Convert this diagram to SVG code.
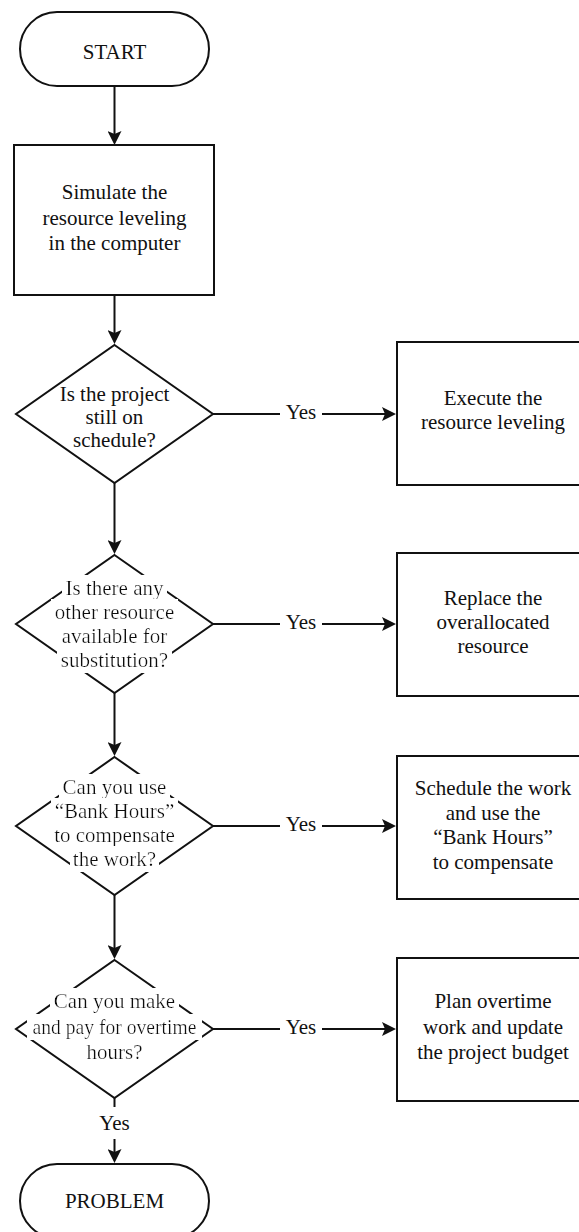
<svg xmlns="http://www.w3.org/2000/svg" width="579" height="1232" viewBox="0 0 579 1232">
  <style>
    .shape { fill: #fff; stroke: #111; stroke-width: 2; }
    .conn { fill: none; stroke: #111; stroke-width: 2; }
    .arrow { marker-end: url(#head); }
    text { font-family: "Liberation Serif", "Times New Roman", serif; font-size: 21px; fill: #111; text-anchor: middle; }
    .knock { filter: url(#knockout); }
  </style>
  <defs>
    <marker id="head" markerUnits="userSpaceOnUse" viewBox="0 0 14 14" markerWidth="14" markerHeight="14" refX="11" refY="7" orient="auto">
      <path d="M0,0 L14,7 L0,14 L3,7 Z" fill="#111"/>
    </marker>
    <!-- white box behind a label so the outline it sits on is cut away -->
    <filter id="knockout" x="-0.03" y="-0.02" width="1.06" height="1.04">
      <feFlood flood-color="#fff" result="bg"/>
      <feMerge>
        <feMergeNode in="bg"/>
        <feMergeNode in="SourceGraphic"/>
      </feMerge>
    </filter>
  </defs>

  <g id="connectors">
    <line class="conn arrow" x1="114.5" y1="86" x2="114.5" y2="142"/>
    <line class="conn arrow" x1="114.5" y1="295" x2="114.5" y2="341"/>
    <line class="conn arrow" x1="114.5" y1="483" x2="114.5" y2="551"/>
    <line class="conn arrow" x1="114.5" y1="693" x2="114.5" y2="753"/>
    <line class="conn arrow" x1="114.5" y1="895" x2="114.5" y2="956"/>

    <line class="conn" x1="213" y1="414" x2="280" y2="414"/>
    <line class="conn arrow" x1="322" y1="414" x2="393" y2="414"/>
    <text x="301" y="418.5">Yes</text>

    <line class="conn" x1="213" y1="624" x2="280" y2="624"/>
    <line class="conn arrow" x1="322" y1="624" x2="393" y2="624"/>
    <text x="301" y="628.5">Yes</text>

    <line class="conn" x1="213" y1="826" x2="280" y2="826"/>
    <line class="conn arrow" x1="322" y1="826" x2="393" y2="826"/>
    <text x="301" y="830.5">Yes</text>

    <line class="conn" x1="213" y1="1029" x2="280" y2="1029"/>
    <line class="conn arrow" x1="322" y1="1029" x2="393" y2="1029"/>
    <text x="301" y="1033.5">Yes</text>

    <line class="conn" x1="114.5" y1="1098" x2="114.5" y2="1107"/>
    <text x="114.5" y="1130">Yes</text>
    <line class="conn arrow" x1="114.5" y1="1139" x2="114.5" y2="1160"/>
  </g>

  <g id="start">
    <rect class="shape" x="20" y="12" width="189" height="74" rx="37"/>
    <text x="114.5" y="59">START</text>
  </g>

  <g id="simulate">
    <rect class="shape" x="14" y="145" width="200" height="150"/>
    <text x="114.5" y="199">Simulate the</text>
    <text x="114.5" y="224.5">resource leveling</text>
    <text x="114.5" y="250">in the computer</text>
  </g>

  <g id="on-schedule">
    <polygon class="shape" points="114.5,345 213,414 114.5,483 16,414"/>
    <text x="114.5" y="400.8">Is the project</text>
    <text x="114.5" y="424">still on</text>
    <text x="114.5" y="447.2">schedule?</text>
  </g>

  <g id="execute">
    <rect class="shape" x="397" y="342" width="195" height="143"/>
    <text x="493" y="405">Execute the</text>
    <text x="493" y="429">resource leveling</text>
  </g>

  <g id="substitute">
    <polygon class="shape" points="114.5,555 213,624 114.5,693 16,624"/>
    <text class="knock" x="114.5" y="595">Is there any</text>
    <text class="knock" x="114.5" y="619">other resource</text>
    <text class="knock" x="114.5" y="643">available for</text>
    <text class="knock" x="114.5" y="667">substitution?</text>
  </g>

  <g id="replace">
    <rect class="shape" x="397" y="553" width="195" height="143"/>
    <text x="493" y="605">Replace the</text>
    <text x="493" y="629">overallocated</text>
    <text x="493" y="653">resource</text>
  </g>

  <g id="bank-hours">
    <polygon class="shape" points="114.5,757 213,826 114.5,895 16,826"/>
    <text class="knock" x="114.5" y="794">Can you use</text>
    <text class="knock" x="114.5" y="817.5">“Bank Hours”</text>
    <text class="knock" x="114.5" y="842">to compensate</text>
    <text class="knock" x="114.5" y="866">the work?</text>
  </g>

  <g id="schedule-work">
    <rect class="shape" x="397" y="756" width="195" height="143"/>
    <text x="493" y="795">Schedule the work</text>
    <text x="493" y="819.5">and use the</text>
    <text x="493" y="844">“Bank Hours”</text>
    <text x="493" y="868.5">to compensate</text>
  </g>

  <g id="overtime">
    <polygon class="shape" points="114.5,960 213,1029 114.5,1098 16,1029"/>
    <text class="knock" x="114.5" y="1008">Can you make</text>
    <text class="knock" x="114.5" y="1034" textLength="164" lengthAdjust="spacingAndGlyphs">and pay for overtime</text>
    <text class="knock" x="114.5" y="1059">hours?</text>
  </g>

  <g id="plan-overtime">
    <rect class="shape" x="397" y="958" width="195" height="143"/>
    <text x="493" y="1008">Plan overtime</text>
    <text x="493" y="1034">work and update</text>
    <text x="493" y="1059">the project budget</text>
  </g>

  <g id="problem">
    <rect class="shape" x="20" y="1164" width="189" height="74" rx="37"/>
    <text x="114.5" y="1208">PROBLEM</text>
  </g>
</svg>
